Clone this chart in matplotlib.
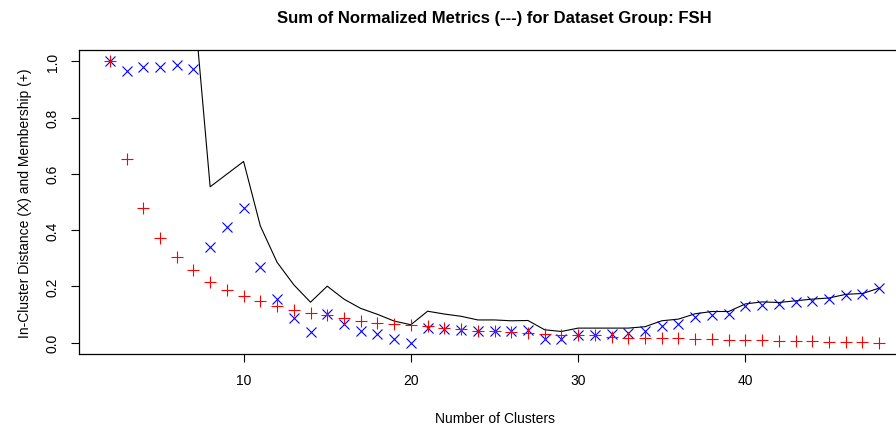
import numpy as np
import matplotlib
matplotlib.use("Agg")
import matplotlib.pyplot as plt

plt.rcParams['font.family'] = ['Liberation Sans', 'DejaVu Sans']

# number of clusters
clusters = list(range(2, 49))

# normalized membership (+), red
membership = [1.000, 0.652, 0.479, 0.371, 0.304, 0.258, 0.215, 0.189, 0.166, 0.147,
              0.130, 0.118, 0.106, 0.099, 0.088, 0.079, 0.071, 0.065, 0.064, 0.058,
              0.052, 0.050, 0.040, 0.040, 0.038, 0.035, 0.032, 0.026, 0.026, 0.026,
              0.020, 0.017, 0.017, 0.017, 0.017, 0.012, 0.014, 0.008, 0.008, 0.010,
              0.005, 0.005, 0.005, 0.003, 0.002, 0.001, 0.000]

# normalized in-cluster distance (X), blue
distance = [1.000, 0.966, 0.981, 0.981, 0.986, 0.972, 0.339, 0.410, 0.478, 0.268,
            0.156, 0.088, 0.038, 0.102, 0.067, 0.043, 0.030, 0.012, 0.000, 0.054,
            0.050, 0.044, 0.041, 0.041, 0.040, 0.044, 0.014, 0.014, 0.026, 0.026,
            0.032, 0.035, 0.040, 0.061, 0.067, 0.091, 0.097, 0.103, 0.130, 0.135,
            0.138, 0.144, 0.150, 0.156, 0.170, 0.174, 0.194]

total = np.array(membership) + np.array(distance)

fig = plt.figure(figsize=(8.96, 4.27), dpi=100)
# the plot box runs past the right edge of the picture, as in the original
ax = fig.add_axes([79/896, 72/427, 831/896, 304/427])

ax.plot(clusters, total, color='black', lw=0.8)
ax.plot(clusters, distance, ls='none', marker='x', color='#0000FF', ms=6.5, mew=0.8)
ax.plot(clusters, membership, ls='none', marker='+', color='#FF0000', ms=8.5, mew=0.8)

ax.set_xlim(0.16, 49.84)
ax.set_ylim(-0.04, 1.04)
ax.set_xticks([10, 20, 30, 40])
ax.set_yticks([0, 0.2, 0.4, 0.6, 0.8, 1.0], ['0.0', '0.2', '0.4', '0.6', '0.8', '1.0'])
for lab in ax.get_yticklabels():
    lab.set_rotation(90)
    lab.set_va('center')
ax.tick_params(axis='both', length=6, width=0.8, pad=8, labelsize=10, direction='out')

for sp in ax.spines.values():
    sp.set_linewidth(0.9)

ax.set_title("Sum of Normalized Metrics (---) for Dataset Group: FSH",
             fontsize=12, fontweight='bold', pad=20)
ax.set_xlabel("Number of Clusters", fontsize=10, labelpad=17)
ax.set_ylabel("In-Cluster Distance (X) and Membership (+)", fontsize=10, labelpad=10)

fig.savefig('out.png', dpi=100)
